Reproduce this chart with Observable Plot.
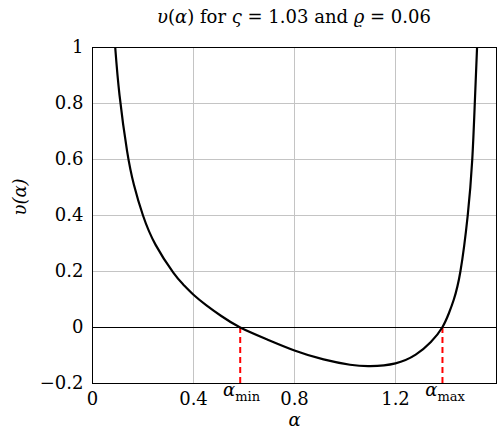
<!DOCTYPE html>
<html>
<head>
<meta charset="utf-8">
<script src="https://cdn.jsdelivr.net/npm/d3@7"></script>
<script src="https://cdn.jsdelivr.net/npm/@observablehq/plot@0.6"></script>
<style>
  body { margin: 0; background: #fff; }
  #title { height: 28px; line-height: 34px; padding-left: 92px; padding-right: 2px; text-align: center;
           font-family: "DejaVu Serif"; font-size: 18px; color: #000; white-space: nowrap; overflow: visible; }
  #title i { font-style: italic; }
</style>
</head>
<body>
<div id="title"><i>υ</i>(<i>α</i>) for <i>ς</i> = 1.03 and <i>ϱ</i> = 0.06</div>
<div id="chart"></div>
<script>
// Curve samples
const alpha = [0.090, 0.107, 0.137, 0.164, 0.200, 0.250, 0.320, 0.360, 0.400, 0.450, 0.510, 0.585,
               0.690, 0.800, 0.915, 1.020, 1.100, 1.200, 1.280, 1.340, 1.385,
               1.411, 1.431, 1.457, 1.486, 1.504, 1.514, 1.523];
const upsilon = [1.00, 0.83, 0.63, 0.51, 0.40, 0.295, 0.196, 0.153, 0.117, 0.080, 0.041, 0.00,
                 -0.042, -0.082, -0.114, -0.133, -0.138, -0.128, -0.097, -0.052, 0.00,
                 0.05, 0.10, 0.20, 0.40, 0.60, 0.80, 1.00];
// Roots
const rootX = [0.585, 1.386];
const rootName = ["min", "max"];
// Axes
const xDomain = [0, 1.6];
const yDomain = [-0.2, 1];
const xTicks = [0, 0.4, 0.8, 1.2];
const yTicks = [-0.2, 0, 0.2, 0.4, 0.6, 0.8, 1];
const xGrid = [0.4, 0.8, 1.2];
const yGrid = [0.2, 0.4, 0.6, 0.8];

const curve = alpha.map((a, i) => ({a, v: upsilon[i]}));
const roots = rootX.map((x, i) => ({x, name: rootName[i]}));
const fmt = d => (d < 0 ? "\u2212" + String(Math.abs(d)) : String(d));
const serif = "DejaVu Serif";

const chart = Plot.plot({
  width: 498,
  height: 407,
  marginTop: 19,
  marginBottom: 52,
  marginLeft: 92,
  marginRight: 2,
  x: {domain: xDomain},
  y: {domain: yDomain},
  style: {fontFamily: serif, fontSize: "18px", color: "#000", background: "#fff", overflow: "visible"},
  marks: [
    Plot.gridX(xGrid, {stroke: "#c4c4c4", strokeOpacity: 1, strokeWidth: 1}),
    Plot.gridY(yGrid, {stroke: "#c4c4c4", strokeOpacity: 1, strokeWidth: 1}),
    Plot.ruleY([0], {stroke: "#000", strokeWidth: 1}),
    Plot.ruleX(roots, {x: "x", y1: 0, y2: yDomain[0], stroke: "#ff0000", strokeWidth: 2, strokeDasharray: "6,4"}),
    Plot.line(curve, {x: "a", y: "v", stroke: "#000", strokeWidth: 2.2, curve: "natural", clip: true}),
    Plot.frame({stroke: "#000", strokeWidth: 1}),
    Plot.axisX(xTicks, {tickSize: 0, tickPadding: 9, label: null, tickFormat: fmt, fontFamily: serif}),
    Plot.axisY(yTicks, {tickSize: 0, tickPadding: 9, label: null, tickFormat: fmt, fontFamily: serif}),
    Plot.text(roots, {x: "x", frameAnchor: "bottom", text: () => "α", fontStyle: "italic", fontFamily: serif, textAnchor: "end", dx: -5, dy: 12}),
    Plot.text(roots, {x: "x", frameAnchor: "bottom", text: "name", fontSize: 13, fontFamily: serif, textAnchor: "start", dx: -5, dy: 17}),
    Plot.text(["α"], {frameAnchor: "bottom", fontStyle: "italic", fontFamily: serif, dy: 42}),
    Plot.text(["υ(α)"], {frameAnchor: "left", fontStyle: "italic", fontFamily: serif, rotate: -90, dx: -72})
  ]
});
document.getElementById("chart").appendChild(chart);
</script>
</body>
</html>
